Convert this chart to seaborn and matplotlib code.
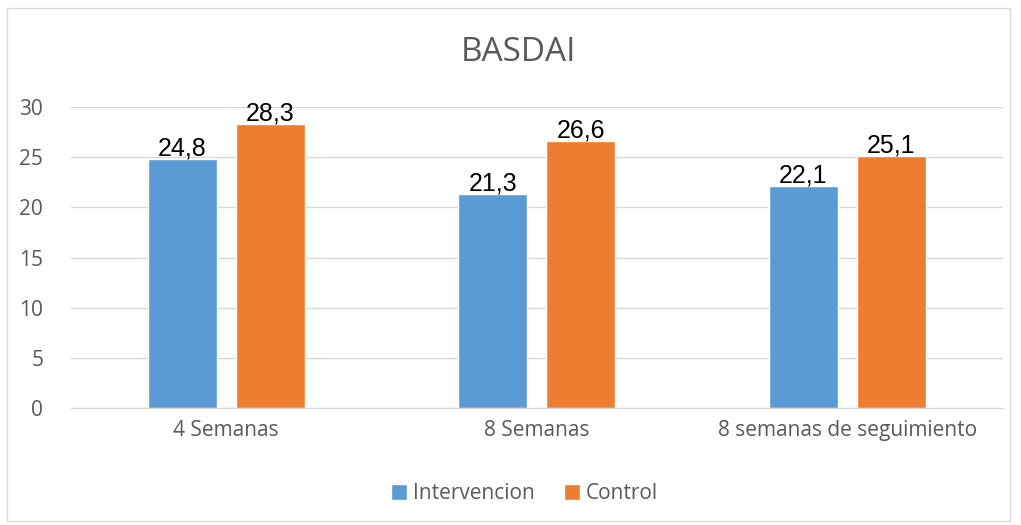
#!/usr/bin/env python3
import pandas as pd
import seaborn as sns
import matplotlib.pyplot as plt
import matplotlib.patches as patches

sns.set_style('white')
plt.rcParams['font.family'] = ['Open Sans', 'DejaVu Sans']

categories = ['4 Semanas', '8 Semanas', '8 semanas de seguimiento']
series = ['Intervencion', 'Control']
intervencion = [24.8, 21.3, 22.1]
control = [28.3, 26.6, 25.1]
yticks = [0, 5, 10, 15, 20, 25, 30]

df = pd.DataFrame({
    'cat': categories * 2,
    'grupo': [series[0]] * 3 + [series[1]] * 3,
    'valor': intervencion + control,
})

fig = plt.figure(figsize=(10.21, 5.25), dpi=100)
ax = fig.add_axes([0.0695, 0.223, 0.9125, 0.573])
ax = sns.barplot(data=df, x='cat', y='valor', hue='grupo', order=categories,
                 hue_order=series, palette=['#5B9BD5', '#ED7D31'],
                 width=0.566, gap=0.215, ax=ax, saturation=1)

ax.set_ylim(0, 30)
ax.set_yticks(yticks)
ax.set_xlim(-0.5, 2.5)
ax.yaxis.grid(True, color='#D9D9D9', linewidth=1)
ax.set_axisbelow(True)
for s in ['top', 'right', 'left']:
    ax.spines[s].set_visible(False)
ax.spines['bottom'].set_color('#D9D9D9')
ax.tick_params(axis='both', length=0, labelsize=15, colors='#595959', pad=9)
ax.tick_params(axis='y', pad=20)
ax.set_xlabel('')
ax.set_ylabel('')

for cont in ax.containers:
    labels = [f'{v:.1f}'.replace('.', ',') for v in cont.datavalues]
    ax.bar_label(cont, labels=labels, fontsize=18, color='black',
                 family='Liberation Sans', padding=-1)

fig.text(0.508, 0.90, 'BASDAI', fontsize=24, color='#595959',
         ha='center', va='center')

leg = ax.legend(loc='center', bbox_to_anchor=(0.487, -0.285), ncol=2, frameon=False,
                fontsize=15, handlelength=0.75, handleheight=0.75,
                handletextpad=0.3, columnspacing=1.4)
for t in leg.get_texts():
    t.set_color('#595959')

fig.patches.append(patches.Rectangle((0.007, 0.008), 0.982, 0.976,
                   transform=fig.transFigure, fill=False,
                   edgecolor='#D9D9D9', linewidth=1))

fig.savefig('out.png', dpi=100)
